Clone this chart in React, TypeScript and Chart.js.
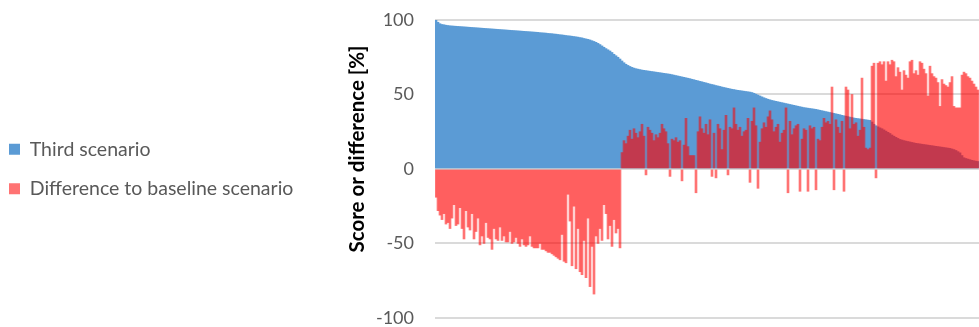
import React, { useEffect, useRef } from 'react';
import { Chart, registerables } from 'chart.js';

Chart.register(...registerables);

// Series names (legend)
const SERIES_NAMES = ['Third scenario', 'Difference to baseline scenario'];
const Y_TITLE = 'Score or difference [%]';

// Third scenario score per item (sorted descending)
const THIRD_SCENARIO = [
  100, 98.5, 97.5, 97, 96.8, 96.5,
  96.3, 96.1, 96.0, 95.9, 95.8, 95.7, 95.6,
  95.5, 95.4, 95.3, 95.2, 95.1, 95.0, 94.9, 94.8, 94.7, 94.6,
  94.5, 94.4, 94.3, 94.2, 94.1, 94.0, 93.9, 93.8, 93.7, 93.6,
  93.5, 93.4, 93.3, 93.2, 93.1, 93.0, 92.9, 92.8, 92.7, 92.6, 92.5, 92.4, 92.3, 92.2, 92.1,
  92.0, 91.9, 91.8, 91.7, 91.5, 91.4, 91.3, 91.2, 91.0, 90.9, 90.8, 90.6, 90.5, 90.3, 90.1,
  90.0, 89.8, 89.6, 89.4, 89.3, 89.1, 88.9, 88.7, 88.5, 88.2,
  88.0, 87.6, 87.3, 87.0, 86.6,
  86.1, 85.6, 85.0, 84.3, 83.5,
  82.6, 81.7, 80.8, 80.0, 79.2,
  78.2, 77.0, 76.0, 75.0, 73.8,
  72.5, 71.3, 70.3, 69.5, 68.8,
  68.2, 67.7, 67.3, 67.0, 66.7,
  66.4, 66.2, 66.0, 65.8, 65.6, 65.4, 65.2, 65.0, 64.8, 64.6,
  64.4, 64.2, 64.0, 63.8, 63.6, 63.3, 63.0, 62.7, 62.4, 62.1,
  61.8, 61.5, 61.2, 60.9, 60.6, 60.2, 59.9, 59.5, 59.2, 58.8,
  58.5, 58.1, 57.8, 57.4, 57.0, 56.7, 56.4, 56.0, 55.7, 55.4,
  55.0, 54.7, 54.4, 54.1, 53.8, 53.5, 53.3, 53.0, 52.8, 52.6,
  52.4, 52.2, 52.0, 51.8, 51.6,
  51.3, 50.8, 50.2, 49.6, 49.0,
  48.4, 47.8, 47.3, 46.8, 46.4,
  46.0, 45.7, 45.4, 45.1, 44.8, 44.5, 44.2, 43.9, 43.6, 43.3,
  43.0, 42.7, 42.4, 42.1, 41.8, 41.5, 41.2, 41.0, 40.8, 40.6,
  40.4, 40.2, 40.0, 39.7, 39.4, 39.1, 38.8, 38.5, 38.2, 37.9,
  37.6, 37.3, 37.0, 36.7, 36.4, 36.0, 35.7, 35.4, 35.1, 34.8,
  34.5, 34.2, 34.0, 33.8, 33.6, 33.4, 33.2, 33.0, 32.8, 32.6,
  31.5, 30.0, 29.0, 28.3, 27.6,
  27.0, 26.2, 25.4, 24.6, 23.8,
  22.8, 22.0, 21.2, 20.5, 19.8,
  19.4, 19.0, 18.7, 18.4, 18.1, 17.8, 17.5, 17.2, 17.0, 16.8,
  16.6, 16.4, 16.2, 16.0, 15.8, 15.6, 15.4, 15.2, 15.0, 14.8,
  14.6, 14.4, 14.2, 14.0, 13.8, 13.4, 13.0, 12.4, 11.6, 10.8,
  9.0, 7.5, 7.0, 6.6, 6.2, 5.8, 5.5, 5.2, 5.0,
];

// Difference to baseline scenario per item
const DIFFERENCE = [
  -19, -28, -31, -34, -30, -37, -36, -40, -33, -24,
  -38, -37, -26, -40, -47, -28, -39, -41, -30, -47,
  -42, -33, -51, -45, -50, -36, -46, -47, -54, -40,
  -47, -48, -39, -48, -45, -49, -49, -42, -50, -49,
  -46, -50, -52, -47, -51, -52, -51, -45, -52, -53,
  -53, -53, -50, -54, -54, -55, -56, -56, -57, -58,
  -59, -60, -61, -44, -62, -63, -17, -35, -65, -25,
  -67, -40, -69, -71, -48, -73, -33, -79, -52, -84,
  -45, -50, -40, -48, -24, -30, -47, -38, -52, -34,
  -43, -40, -53, 11, 19, 17, 22, 26, 20, 27,
  24, 21, 25, 30, 22, -4, 28, 26, 24, 19,
  23, 21, 24, 30, 27, 25, 17, -5, 20, 19,
  21, 18, 19, -8, 16, 34, 15, 9, 9, 9,
  -16, 25, 35, 27, 24, 30, 23, 33, -5, 24,
  -6, 30, 27, 13, 26, 36, -4, 28, 27, 41,
  30, 26, 28, 22, 25, 26, 34, -9, 32, 41,
  29, -13, 18, 27, 31, 28, 35, 39, 33, 25,
  28, 30, 18, 24, 26, 41, -16, 32, 23, 27,
  29, 30, -15, 20, 27, 26, -15, 29, 27, 28,
  -14, 20, 19, 28, 34, 31, 32, 30, 55, -14,
  33, 28, 24, 32, -15, 55, 53, 27, 50, 30,
  31, 22, 26, 61, 28, 14, 13, 14, 69, 71,
  -6, 71, 72, 70, 72, 59, 72, 70, 73, 72,
  62, 68, 65, 53, 66, 63, 61, 72, 73, 64,
  66, 63, 72, 71, 67, 64, 49, 69, 64, 62,
  61, 58, 42, 60, 57, 56, 55, 58, 62, 42,
  41, 41, 41, 63, 65, 64, 62, 61, 59, 57,
  55, 53,
];

const CATEGORIES = THIRD_SCENARIO.map((_, i) => String(i + 1));
const Y_TICKS = { min: -100, max: 100, step: 50 };

const CANVAS_W = 990;
const CANVAS_H = 319;

export default function App() {
  const ref = useRef<HTMLCanvasElement>(null);

  useEffect(() => {
    if (!ref.current) return;
    const chart = new Chart(ref.current, {
      type: 'bar',
      data: {
        labels: CATEGORIES,
        datasets: [
          {
            label: SERIES_NAMES[0],
            data: THIRD_SCENARIO,
            backgroundColor: '#5B9BD5',
            borderWidth: 0,
            grouped: false,
            categoryPercentage: 1,
            barPercentage: 1,
            order: 2,
          },
          {
            label: SERIES_NAMES[1],
            data: DIFFERENCE,
            backgroundColor: 'rgba(255,0,0,0.55)',
            borderWidth: 0,
            grouped: false,
            categoryPercentage: 1,
            barPercentage: 1,
            order: 1,
          },
        ],
      },
      options: {
        animation: false,
        responsive: false,
        maintainAspectRatio: false,
        devicePixelRatio: 1,
        layout: { padding: { top: 12, bottom: 9, left: 0, right: 0 } },
        plugins: {
          legend: {
            position: 'left',
            maxWidth: 310,
            labels: {
              boxWidth: 11,
              boxHeight: 11,
              padding: 20,
              color: '#595959',
              font: { family: 'Lato', size: 19.5 },
              sort: (a: any, b: any) => a.datasetIndex - b.datasetIndex,
            },
          },
          tooltip: { enabled: false },
        },
        scales: {
          x: { display: false },
          y: {
            min: Y_TICKS.min,
            max: Y_TICKS.max,
            afterFit: (scale: any) => {
              scale.width = 136;
            },
            ticks: {
              stepSize: Y_TICKS.step,
              color: '#595959',
              padding: 1,
              font: { family: 'Lato', size: 18, lineHeight: 0.9 },
            },
            grid: { color: '#dadada', lineWidth: 2, drawTicks: true, tickLength: 20, tickColor: 'rgba(0,0,0,0)' },
            border: { display: false },
            title: {
              display: true,
              text: '        ' + Y_TITLE,
              color: '#000000',
              font: { family: 'Lato', size: 20.5, weight: 'bold' },
              padding: { top: 46, bottom: 0 },
            },
          },
        },
      },
    });
    return () => chart.destroy();
  }, []);

  return (
    <div style={{ position: 'fixed', left: -11, top: 8, width: CANVAS_W, height: CANVAS_H }}>
      <canvas ref={ref} width={CANVAS_W} height={CANVAS_H} style={{ display: 'block' }} />
    </div>
  );
}
